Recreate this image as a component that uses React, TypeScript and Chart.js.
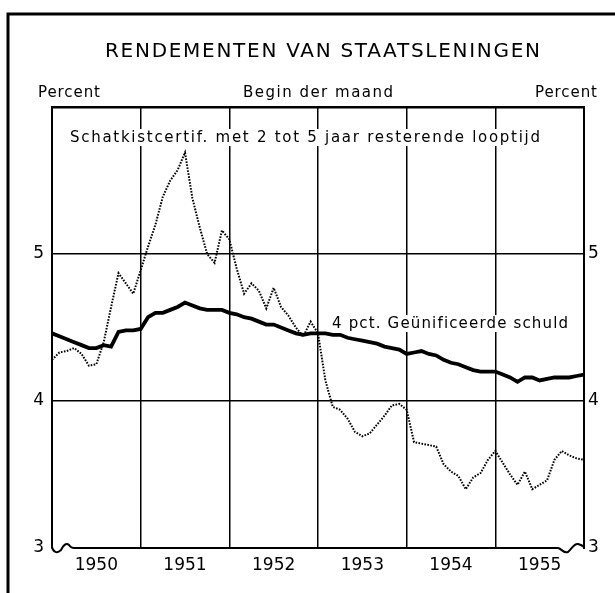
import React, { useEffect, useRef } from 'react';
import { Chart, registerables } from 'chart.js';

Chart.register(...registerables);

// Month index 0 = begin Jan 1950 ... 72 = begin Jan 1956
const yearLabels = ['1950', '1951', '1952', '1953', '1954', '1955'];
const yTickLabels = [3, 4, 5];

const schatkistcertif = [
  4.28, 4.33, 4.34, 4.36, 4.32, 4.24, 4.25, 4.40, 4.64, 4.87, 4.80, 4.73,
  4.89, 5.05, 5.20, 5.39, 5.50, 5.57, 5.69, 5.38, 5.18, 5.00, 4.94, 5.16,
  5.10, 4.90, 4.73, 4.80, 4.75, 4.63, 4.77, 4.64, 4.58, 4.50, 4.44, 4.54,
  4.46, 4.14, 3.96, 3.94, 3.88, 3.79, 3.76, 3.78, 3.84, 3.90, 3.97, 3.98,
  3.94, 3.72, 3.71, 3.70, 3.69, 3.57, 3.52, 3.49, 3.40, 3.48, 3.51, 3.60,
  3.66, 3.58, 3.50, 3.43, 3.52, 3.40, 3.43, 3.46, 3.60, 3.66, 3.63, 3.61,
  3.60,
];

const geunificeerdeSchuld = [
  4.46, 4.44, 4.42, 4.40, 4.38, 4.36, 4.36, 4.38, 4.37, 4.47, 4.48, 4.48,
  4.49, 4.57, 4.60, 4.60, 4.62, 4.64, 4.67, 4.65, 4.63, 4.62, 4.62, 4.62,
  4.60, 4.59, 4.57, 4.56, 4.54, 4.52, 4.52, 4.50, 4.48, 4.46, 4.45, 4.46,
  4.46, 4.46, 4.45, 4.45, 4.43, 4.42, 4.41, 4.40, 4.39, 4.37, 4.36, 4.35,
  4.32, 4.33, 4.34, 4.32, 4.31, 4.28, 4.26, 4.25, 4.23, 4.21, 4.20, 4.20,
  4.20, 4.18, 4.16, 4.13, 4.16, 4.16, 4.14, 4.15, 4.16, 4.16, 4.16, 4.17,
  4.18,
];

const FONT = '"DejaVu Sans", sans-serif';

function fitText(
  ctx: CanvasRenderingContext2D,
  text: string,
  x0: number,
  x1: number,
  baseline: number,
  size: number
) {
  ctx.font = `${size}px ${FONT}`;
  (ctx as any).letterSpacing = '0px';
  const w = ctx.measureText(text).width;
  const ls = (x1 - x0 - w) / Math.max(1, text.length - 1);
  (ctx as any).letterSpacing = `${ls}px`;
  ctx.textAlign = 'left';
  ctx.textBaseline = 'alphabetic';
  ctx.fillText(text, x0, baseline);
  (ctx as any).letterSpacing = '0px';
}

const decorPlugin = {
  id: 'decor',
  beforeDraw(chart: any) {
    const ctx: CanvasRenderingContext2D = chart.ctx;
    ctx.save();
    ctx.fillStyle = '#fff';
    ctx.fillRect(0, 0, chart.width, chart.height);
    ctx.strokeStyle = '#000';
    ctx.lineWidth = 3;
    ctx.beginPath();
    ctx.moveTo(8, chart.height);
    ctx.lineTo(8, 14);
    ctx.lineTo(chart.width, 14);
    ctx.stroke();
    ctx.fillStyle = '#000';
    fitText(ctx, 'RENDEMENTEN VAN STAATSLENINGEN', 105, 540, 57, 20);
    fitText(ctx, 'Percent', 38, 100, 97, 15);
    fitText(ctx, 'Begin der maand', 243, 393, 97, 15);
    fitText(ctx, 'Percent', 535, 597, 97, 15);
    ctx.restore();
  },
  beforeDatasetsDraw(chart: any) {
    const ctx: CanvasRenderingContext2D = chart.ctx;
    const { left, right, bottom } = chart.chartArea;
    ctx.save();
    // bottom axis line with break marks
    ctx.strokeStyle = '#000';
    ctx.lineWidth = 2;
    ctx.beginPath();
    const B = bottom;
    ctx.moveTo(left, B - 1);
    ctx.bezierCurveTo(left + 1, B + 4, left + 5, B + 6, left + 9, B + 2);
    ctx.bezierCurveTo(left + 11, B - 2, left + 14, B - 6, left + 17, B - 3);
    ctx.quadraticCurveTo(left + 19, B, left + 22, B);
    ctx.lineTo(right - 26, B);
    ctx.bezierCurveTo(right - 22, B + 1, right - 20, B + 6, right - 16, B + 4);
    ctx.bezierCurveTo(right - 12, B + 1, right - 10, B - 5, right - 6, B - 4);
    ctx.quadraticCurveTo(right - 2, B - 3, right, B - 1);
    ctx.stroke();
    // annotations with white backing
    ctx.fillStyle = '#fff';
    ctx.fillRect(66, 129, 478, 17);
    ctx.fillRect(328, 315, 244, 17);
    ctx.fillStyle = '#000';
    fitText(ctx, 'Schatkistcertif. met 2 tot 5 jaar resterende looptijd', 70, 540, 142, 15);
    fitText(ctx, '4 pct. Geünificeerde schuld', 332, 568, 328, 15);
    ctx.restore();
  },
};

export default function App() {
  const ref = useRef<HTMLCanvasElement | null>(null);

  useEffect(() => {
    if (!ref.current) return;
    const months = schatkistcertif.map((_, i) => i);
    const chart = new Chart(ref.current, {
      type: 'line',
      data: {
        datasets: [
          {
            label: 'Schatkistcertif. met 2 tot 5 jaar resterende looptijd',
            data: months.map((m, i) => ({ x: m, y: schatkistcertif[i] })),
            borderColor: '#000',
            borderWidth: 2,
            borderDash: [1.6, 1.4],
            pointRadius: 0,
            tension: 0,
            fill: false,
          },
          {
            label: '4 pct. Geünificeerde schuld',
            data: months.map((m, i) => ({ x: m, y: geunificeerdeSchuld[i] })),
            borderColor: '#000',
            borderWidth: 3.8,
            pointRadius: 0,
            tension: 0,
            fill: false,
          },
        ],
      },
      options: {
        animation: false,
        responsive: false,
        devicePixelRatio: 1,
        layout: { padding: { top: 107, left: 0, right: 0, bottom: 0 } },
        plugins: {
          legend: { display: false },
          title: { display: false },
          tooltip: { enabled: false },
        },
        scales: {
          x: {
            type: 'linear',
            min: 0,
            max: 72,
            afterFit: (s: any) => {
              s.height = 45;
            },
            afterBuildTicks: (s: any) => {
              const t = [];
              for (let v = 0; v <= 72; v += 6) t.push({ value: v });
              s.ticks = t;
            },
            ticks: {
              autoSkip: false,
              maxRotation: 0,
              padding: 7,
              color: '#000',
              font: { family: FONT, size: 17 },
              callback: (v: any) => {
                const n = Number(v);
                return n % 12 === 6 ? yearLabels[(n - 6) / 12] : '';
              },
            },
            grid: {
              drawTicks: false,
              color: (c: any) => {
                const v = c.tick ? c.tick.value : -1;
                return v % 12 === 0 && v > 0 && v < 72 ? '#000' : 'rgba(0,0,0,0)';
              },
              lineWidth: 1.5,
            },
            border: { display: false },
          },
          y: {
            type: 'linear',
            position: 'left',
            min: 3,
            max: 6,
            afterFit: (s: any) => {
              s.width = 52;
            },
            ticks: {
              stepSize: 1,
              padding: 8,
              color: '#000',
              font: { family: FONT, size: 17 },
              callback: (v: any) => (yTickLabels.includes(Number(v)) ? String(v) : ''),
            },
            grid: {
              drawTicks: false,
              color: (c: any) => {
                const v = c.tick ? c.tick.value : 0;
                return v === 3 ? 'rgba(0,0,0,0)' : '#000';
              },
              lineWidth: (c: any) => (c.tick && c.tick.value === 6 ? 2.5 : 1.5),
            },
            border: { display: true, color: '#000', width: 2 },
          },
          y2: {
            type: 'linear',
            position: 'right',
            min: 3,
            max: 6,
            afterFit: (s: any) => {
              s.width = 31;
            },
            ticks: {
              stepSize: 1,
              padding: 4,
              color: '#000',
              font: { family: FONT, size: 17 },
              callback: (v: any) => (yTickLabels.includes(Number(v)) ? String(v) : ''),
            },
            grid: { display: false, drawTicks: false },
            border: { display: true, color: '#000', width: 2 },
          },
        },
      },
      plugins: [decorPlugin],
    });
    return () => chart.destroy();
  }, []);

  return (
    <div style={{ position: 'absolute', left: 0, top: 0, width: 615, height: 593 }}>
      <canvas ref={ref} width={615} height={593} />
    </div>
  );
}
